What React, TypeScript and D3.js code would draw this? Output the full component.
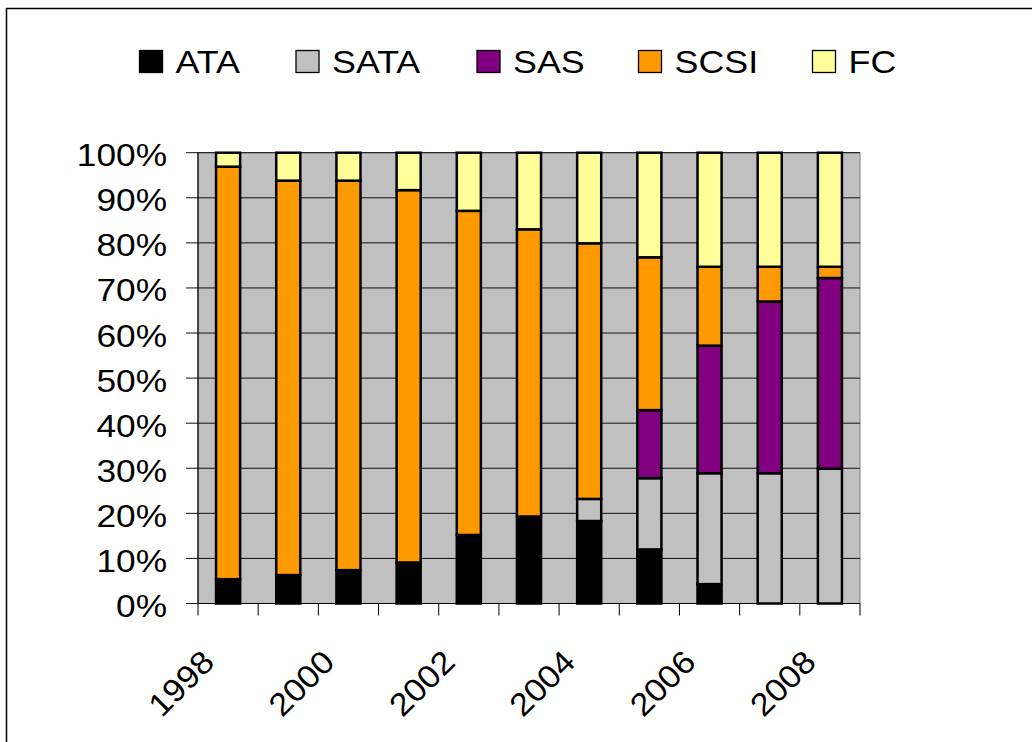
import React from "react";
import * as d3 from "d3";

const years = ["1998","1999","2000","2001","2002","2003","2004","2005","2006","2007","2008"];
const seriesNames = ["ATA", "SATA", "SAS", "SCSI", "FC"];
const seriesColors = ["#000000", "#C0C0C0", "#800080", "#FF9900", "#FFFF99"];

// percentage shares per year
const ata  = [5.4, 6.3, 7.4, 9.1, 15.2, 19.3, 18.3, 12.0, 4.3, 0, 0];
const sata = [0, 0, 0, 0, 0, 0, 4.9, 15.8, 24.6, 28.9, 29.9];
const sas  = [0, 0, 0, 0, 0, 0, 0, 15.1, 28.3, 38.1, 42.3];
const scsi = [91.5, 87.5, 86.4, 82.6, 71.9, 63.7, 56.7, 33.9, 17.5, 7.7, 2.5];
const fc   = [3.1, 6.2, 6.2, 8.3, 12.9, 17.0, 20.1, 23.2, 25.3, 25.3, 25.3];

const yTicks = [0, 10, 20, 30, 40, 50, 60, 70, 80, 90, 100];
const xLabelYears = ["1998", "2000", "2002", "2004", "2006", "2008"];

const FONT = "'Liberation Sans', Arial, Helvetica, sans-serif";
const legendX = [139.5, 296, 477, 638.5, 812.5];

export default function App() {
  const W = 1032, H = 742;
  const left = 198, right = 860, top = 152.7, bottom = 603.5;
  const x = d3.scaleBand<string>().domain(years).range([left, right]).paddingInner(0.6).paddingOuter(0.3);
  const y = d3.scaleLinear().domain([0, 100]).range([bottom, top]);
  const step = x.step();
  const seriesData = [ata, sata, sas, scsi, fc];
  const table = years.map((yr, i) => {
    const o: any = { year: yr };
    seriesNames.forEach((s, k) => (o[s] = seriesData[k][i]));
    return o;
  });
  const stack = d3.stack<any>().keys(seriesNames)(table);
  const sx = 1.12;

  return (
    <svg width={W} height={H} style={{ position: "absolute", left: 0, top: 0, background: "#fff" }} fontFamily={FONT}>
      <rect x={6.5} y={8.5} width={W + 20} height={H + 20} fill="#fff" stroke="#000" strokeWidth={1.5} />
      {/* legend */}
      {seriesNames.map((s, k) => (
        <g key={s}>
          <rect x={legendX[k]} y={50.5} width={23} height={22} fill={seriesColors[k]} stroke="#000" strokeWidth={1.3} />
          <text transform={`translate(${legendX[k] + 36},${73}) scale(${sx},1)`} fontSize={32} fill="#000">{s}</text>
        </g>
      ))}
      {/* plot area */}
      <rect x={left} y={top} width={right - left} height={bottom - top} fill="#C0C0C0" stroke="#808080" strokeWidth={1} />
      {yTicks.map((t) => (
        <g key={t}>
          <line x1={left - 12} x2={right} y1={y(t)} y2={y(t)} stroke="#111" strokeWidth={1} />
          <text transform={`translate(${167},${y(t) + 13.5}) scale(${sx},1)`} textAnchor="end" fontSize={31.5} fill="#000">{t}%</text>
        </g>
      ))}
      {/* bars */}
      {stack.map((layer, k) =>
        layer.map((d, i) => {
          const h = y(d[0]) - y(d[1]);
          if (h <= 0.01) return null;
          return (
            <rect key={`${k}-${i}`} x={x(years[i])!} y={y(d[1])} width={x.bandwidth()} height={h}
              fill={seriesColors[k]} stroke="#000" strokeWidth={2.5} />
          );
        })
      )}
      {/* axes */}
      <line x1={left} x2={left} y1={top} y2={bottom} stroke="#000" strokeWidth={1.2} />
      <line x1={left} x2={right} y1={bottom} y2={bottom} stroke="#000" strokeWidth={1.2} />
      {d3.range(years.length + 1).map((i) => (
        <line key={i} x1={left + i * step} x2={left + i * step} y1={bottom} y2={bottom + 12} stroke="#000" strokeWidth={1} />
      ))}
      {xLabelYears.map((yr) => {
        const cx = x(yr)! + x.bandwidth() / 2;
        return (
          <text key={yr} transform={`translate(${cx - 12},${664}) rotate(-45) scale(1.08,1)`} textAnchor="end" fontSize={32} fill="#000">{yr}</text>
        );
      })}
    </svg>
  );
}
